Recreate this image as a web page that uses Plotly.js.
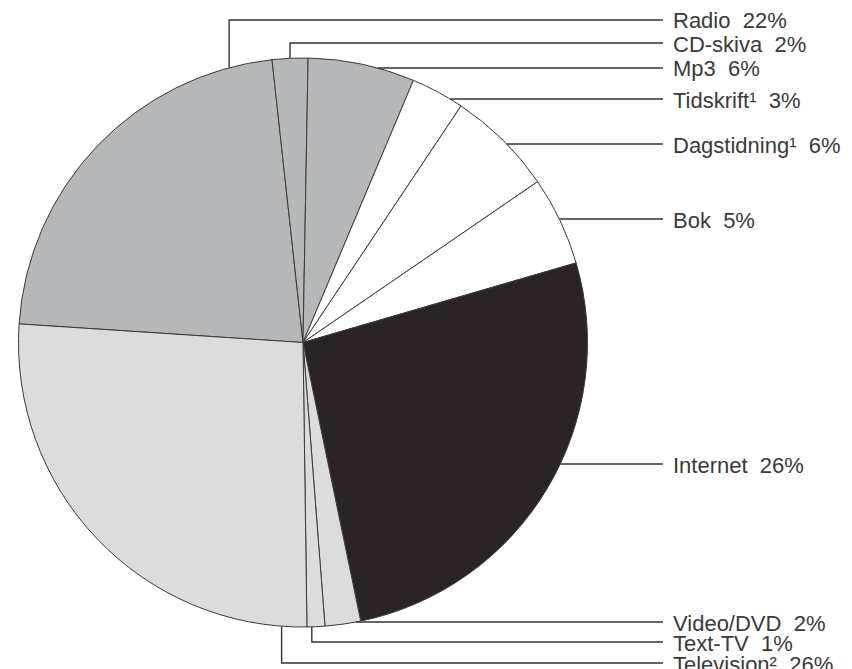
<!DOCTYPE html>
<html>
<head>
<meta charset="utf-8">
<script src="https://cdn.plot.ly/plotly-3.0.1.min.js"></script>
<style>html,body{margin:0;padding:0;background:#fff;}#chart{width:852px;height:669px;}</style>
</head>
<body>
<div id="chart"></div>
<script>
// ---- data ----
var categories = ['Radio', 'CD-skiva', 'Mp3', 'Tidskrift', 'Dagstidning', 'Bok', 'Internet', 'Video/DVD', 'Text-TV', 'Television'];
var shares = [22, 2, 6, 3, 6, 5, 26, 2, 1, 26];
var footnotes = ['', '', '', '1', '1', '', '', '', '', '2'];

// ---- styling / layout (not data) ----
var sliceColors = ['#b5b7b8', '#b5b7b8', '#b5b7b8', '#ffffff', '#ffffff', '#ffffff', '#2b2426', '#dcdcdd', '#dcdcdd', '#dcdcdd'];
var labelY = [20, 43, 68, 99, 144, 219, 464, 622, 642, 663];      // pixel rows of the label lines
var leaderMode = ['v', 'v', 'h', 'h', 'h', 'h', 'h', 'h', 'v', 'v'];
var leaderFrac = [0.89, 0.5, 0, 0, 0, 0, 0, 0, 0.73, 0.054];
var supChars = {'1': '\u00b9', '2': '\u00b2'};
var W = 852, H = 669;
var CX = 303, CY = 342.5, R = 284.5;
var ROT = -86.25;
var LINE_END = 663, TEXT_X = 671;

function px(x) { return x / W; }
function py(y) { return 1 - y / H; }

var total = shares.reduce(function (a, b) { return a + b; }, 0);

var shapes = [];
var annotations = [];
var acc = 0;
for (var i = 0; i < shares.length; i++) {
  var a0 = ROT + acc / total * 360;
  var span = shares[i] / total * 360;
  acc += shares[i];
  var y = labelY[i];
  var path;
  if (leaderMode[i] === 'v') {
    var a = (a0 + leaderFrac[i] * span) * Math.PI / 180;
    var ax = CX + R * Math.sin(a), ay = CY - R * Math.cos(a);
    path = 'M' + px(ax) + ',' + py(ay) + ' L' + px(ax) + ',' + py(y) + ' L' + px(LINE_END) + ',' + py(y);
  } else {
    var dy = y - CY;
    var hx = CX + Math.sqrt(Math.max(0, R * R - dy * dy));
    path = 'M' + px(hx) + ',' + py(y) + ' L' + px(LINE_END) + ',' + py(y);
  }
  shapes.push({type: 'path', xref: 'paper', yref: 'paper', path: path,
               line: {color: '#333333', width: 1.4}, layer: 'above'});
  var txt = categories[i] + (footnotes[i] ? supChars[footnotes[i]] : '') + '\u00a0\u00a0' + shares[i] + '%';
  annotations.push({xref: 'paper', yref: 'paper', x: px(TEXT_X), y: py(y + 1),
                    xanchor: 'left', yanchor: 'middle', showarrow: false, text: txt,
                    font: {family: 'Liberation Sans, Arial, sans-serif', size: 22, color: '#3a3a3a'}});
}

var trace = {
  type: 'pie',
  labels: categories,
  values: shares,
  sort: false,
  direction: 'clockwise',
  rotation: ROT,
  textinfo: 'none',
  hoverinfo: 'label+percent',
  marker: {colors: sliceColors, line: {color: '#3a3a3a', width: 1}},
  domain: {x: [px(CX - R), px(CX + R)], y: [py(CY + R), py(CY - R)]},
  showlegend: false
};

var layout = {
  width: W, height: H,
  margin: {l: 0, r: 0, t: 0, b: 0},
  paper_bgcolor: '#ffffff',
  showlegend: false,
  shapes: shapes,
  annotations: annotations
};

Plotly.newPlot('chart', [trace], layout, {displayModeBar: false, staticPlot: true});
</script>
</body>
</html>
